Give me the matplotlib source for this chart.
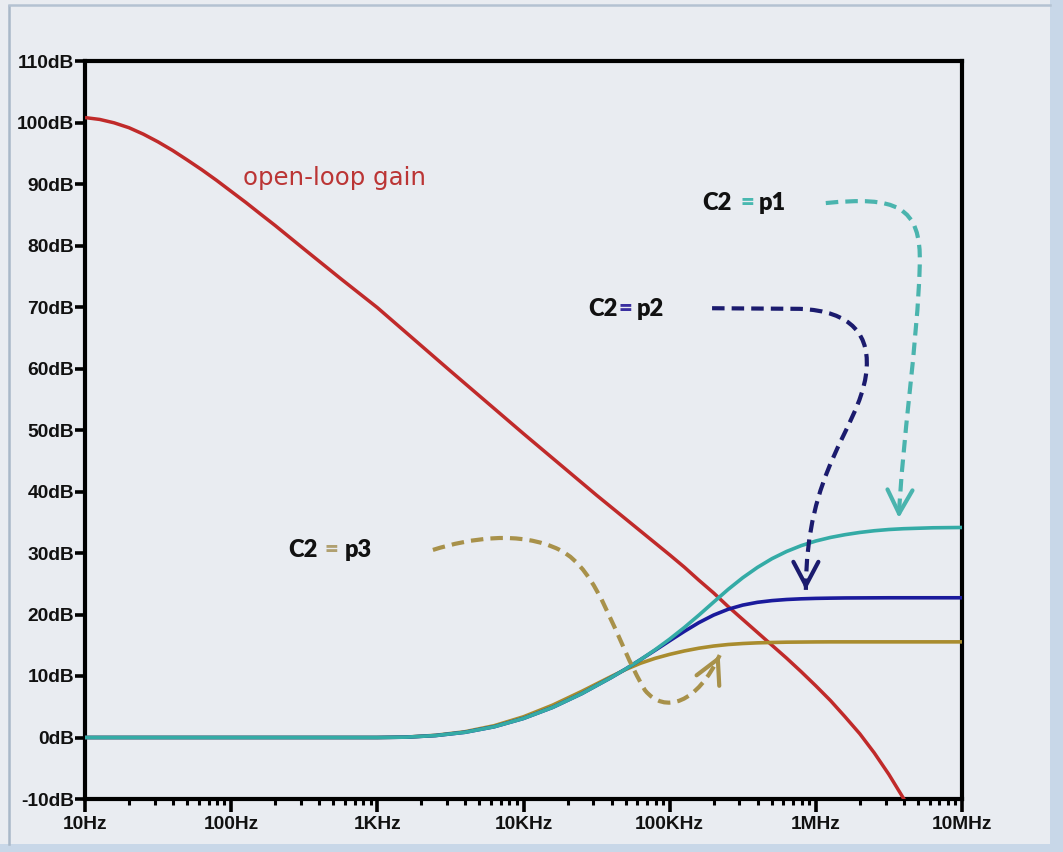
import matplotlib
matplotlib.use("Agg")
import matplotlib.pyplot as plt
from matplotlib.path import Path
from matplotlib.patches import PathPatch, Rectangle
from matplotlib.ticker import FixedLocator, LogLocator, NullFormatter
from matplotlib.lines import Line2D
import numpy as np

# ---------------- data ----------------
ol_freq = [10, 12.6, 15.8, 20, 25.1, 31.6, 39.8, 50.1, 63.1, 79.4, 100, 126, 158, 200,
           316, 562, 1000, 3160, 10000, 31600, 100000, 126000, 158000, 200000, 251000,
           316000, 398000, 501000, 631000, 794000, 1e6, 1.26e6, 1.58e6, 2e6, 2.51e6,
           3.16e6, 3.98e6, 4.07e6]
ol_gain = [100.8, 100.5, 99.95, 99.15, 98.1, 96.85, 95.45, 93.9, 92.3, 90.6, 88.8, 87.0,
           85.15, 83.25, 79.4, 74.6, 69.9, 59.6, 49.4, 39.4, 29.7, 27.7, 25.6, 23.5, 21.3,
           19.2, 17.1, 15.0, 12.9, 10.7, 8.4, 6.0, 3.4, 0.6, -2.5,
           -6.0, -9.9, -10.3]

cl_freq = [10, 1000, 1585, 2512, 3981, 6310, 10000, 15849, 25119, 39811, 50119, 63096,
           79433, 100000, 125893, 158489, 199526, 251189, 316228, 398107, 501187, 630957,
           794328, 1e6, 1.259e6, 1.585e6, 1.995e6, 2.512e6, 3.162e6, 3.981e6, 6.31e6, 1e7]
gain_p1 = [0, 0, 0.06, 0.32, 0.85, 1.75, 3.1, 4.9, 7.15, 9.75, 11.15, 12.65,
           14.26, 16.0, 17.88, 19.9, 22.0, 24.08, 25.98, 27.65, 29.08, 30.25,
           31.2, 31.95, 32.53, 32.98, 33.34, 33.62, 33.82, 33.95, 34.1, 34.15]
gain_p2 = [0, 0, 0.06, 0.32, 0.85, 1.75, 3.1, 4.9, 7.15, 9.75, 11.15, 12.65,
           14.18, 15.73, 17.25, 18.68, 19.9, 20.85, 21.53, 21.98, 22.26, 22.44,
           22.55, 22.62, 22.66, 22.69, 22.7, 22.71, 22.72, 22.72, 22.72, 22.72]
gain_p3 = [0, 0, 0.07, 0.36, 0.94, 1.92, 3.37, 5.27, 7.52, 9.92, 11.07, 12.07,
           12.87, 13.52, 14.07, 14.52, 14.87, 15.12, 15.28, 15.39, 15.45, 15.5,
           15.52, 15.54, 15.55, 15.55, 15.55, 15.55, 15.55, 15.55, 15.55, 15.55]

x_ticks = [10, 100, 1e3, 1e4, 1e5, 1e6, 1e7]
x_labels = ["10Hz", "100Hz", "1KHz", "10KHz", "100KHz", "1MHz", "10MHz"]
y_ticks = list(range(-10, 111, 10))
y_labels = [f"{v}dB" for v in y_ticks]

# decorative dashed arrow paths (Hz, dB), cubic Bezier control points
arrow_p1 = [(1.17e6, 86.9), (3.47e6, 88.0), (5.31e6, 86.6), (5.14e6, 76.8),
            (4.99e6, 64.6), (3.87e6, 47.6), (3.70e6, 35.7)]
arrow_p2 = [(1.95e5, 69.8), (7.78e5, 69.7),
            (1.76e6, 69.35), (2.41e6, 65.4), (2.20e6, 58.9),
            (1.94e6, 50.0), (8.55e5, 43.5), (8.55e5, 24.0)]
arrow_p2_codes = [Path.MOVETO, Path.LINETO, Path.CURVE4, Path.CURVE4, Path.CURVE4,
                  Path.CURVE4, Path.CURVE4, Path.CURVE4]
arrow_p3 = [(2.40e3, 30.5), (4.30e3, 32.4), (9.44e3, 33.7), (1.77e4, 30.5),
            (3.33e4, 27.2), (4.22e4, 15.9), (6.77e4, 7.7),
            (9.27e4, 3.7), (1.55e5, 5.6), (2.20e5, 13.4)]

# ---------------- styling ----------------
W, H = 1063, 852
BG = "#E9ECF1"
C_RED = "#C02A2A"
C_CYAN = "#34ABA6"
C_BLUE = "#1A1A9C"
C_OLIVE = "#A98C2E"

fig = plt.figure(figsize=(W / 100, H / 100), dpi=100, facecolor=BG)

# window-like frame
fig.patches.append(Rectangle((0, 0), 1, 8 / H, transform=fig.transFigure,
                             facecolor="#C8D7E8", edgecolor="none", zorder=0))
fig.patches.append(Rectangle((1050 / W, 0), 13 / W, 1, transform=fig.transFigure,
                             facecolor="#C8D7E8", edgecolor="none", zorder=0))
fig.lines.append(Line2D([9 / W, 9 / W], [8 / H, 1 - 6 / H], transform=fig.transFigure,
                        color="#A9B8C8", lw=1.8))
fig.lines.append(Line2D([9 / W, 1050 / W], [1 - 5 / H, 1 - 5 / H], transform=fig.transFigure,
                        color="#B4C2D2", lw=1.8))

ax = fig.add_axes([85 / W, 1 - 799 / H, (962 - 85) / W, (799 - 61) / H])
ax.set_facecolor(BG)
ax.set_xscale("log")
ax.set_xlim(10, 1e7)
ax.set_ylim(-10, 110)

lkw = dict(solid_joinstyle="round", solid_capstyle="butt")
ax.plot(ol_freq, ol_gain, color=C_RED, lw=2.5, zorder=3, **lkw)
ax.plot(cl_freq, gain_p3, color=C_OLIVE, lw=2.6, zorder=4, **lkw)
ax.plot(cl_freq, gain_p2, color=C_BLUE, lw=2.6, zorder=5, **lkw)
ax.plot(cl_freq, gain_p1, color=C_CYAN, lw=2.6, zorder=6, **lkw)

for s in ax.spines.values():
    s.set_linewidth(3)
    s.set_color("black")

ax.xaxis.set_major_locator(FixedLocator(x_ticks))
ax.set_xticklabels(x_labels)
ax.xaxis.set_minor_locator(LogLocator(base=10, subs=np.arange(2, 10)))
ax.xaxis.set_minor_formatter(NullFormatter())
ax.set_yticks(y_ticks)
ax.set_yticklabels(y_labels)
ax.tick_params(axis="x", which="major", direction="out", length=9, width=2.6, pad=3,
               labelsize=13.8, colors="black")
ax.tick_params(axis="x", which="minor", direction="out", length=4.5, width=2.2)
ax.tick_params(axis="y", which="major", direction="out", length=7, width=2.6, pad=1,
               labelsize=13.8)
for lab in ax.get_xticklabels() + ax.get_yticklabels():
    lab.set_fontfamily("Liberation Sans")
    lab.set_fontweight("bold")
    lab.set_color("#111111")


# ---------------- dashed arrows ----------------
def dashed_arrow(pts, codes, color):
    path = Path(pts, codes)
    patch = PathPatch(path, transform=ax.transData, fill=False, edgecolor=color,
                      lw=3.0, linestyle=(0, (3.0, 1.7)), capstyle="butt", zorder=7,
                      clip_on=False)
    ax.add_patch(patch)
    tip = np.array(ax.transData.transform(pts[-1]))
    prev = np.array(ax.transData.transform(pts[-2]))
    d = tip - prev
    d = d / np.hypot(*d)
    back = ax.transData.inverted().transform(tip - d * 6)
    ax.annotate("", xy=pts[-1], xytext=tuple(back),
                arrowprops=dict(arrowstyle="->,head_length=0.85,head_width=0.45",
                                mutation_scale=20, lw=3.0, color=color,
                                shrinkA=0, shrinkB=0),
                zorder=8)


cubic = lambda n: [Path.MOVETO] + [Path.CURVE4] * (n - 1)
dashed_arrow(arrow_p1, cubic(len(arrow_p1)), "#4AB4AE")
dashed_arrow(arrow_p2, arrow_p2_codes, "#1B1B6E")
dashed_arrow(arrow_p3, cubic(len(arrow_p3)), "#A8914A")

# ---------------- texts ----------------
fig.text(243 / W, 1 - 185 / H, "open-loop gain", fontfamily="DejaVu Sans",
         fontsize=17.6, color="#BB3535", va="baseline", ha="left")


def c2_label(px, py, num, eq_color, gap1, gap2):
    kw = dict(fontfamily="Lato", fontweight="heavy", fontsize=17)
    t1 = fig.text(px / W, 1 - py / H, "C2", color="#111111", va="baseline",
                  ha="left", **kw)
    a2 = ax.annotate("=", xy=(1, 0), xycoords=t1, xytext=(gap1, 0),
                     textcoords="offset pixels", va="bottom", ha="left",
                     color=eq_color, annotation_clip=False, **kw)
    ax.annotate(num, xy=(1, 0), xycoords=a2, xytext=(gap2, 0),
                textcoords="offset pixels", va="bottom", ha="left",
                color="#111111", annotation_clip=False, **kw)


c2_label(702, 210, "p1", "#49B8B0", 9, 5)
c2_label(588, 316, "p2", "#3A2FA0", 1, 5)
c2_label(288, 557, "p3", "#B0A070", 7, 7)

fig.savefig("out.png", dpi=100, facecolor=BG)
